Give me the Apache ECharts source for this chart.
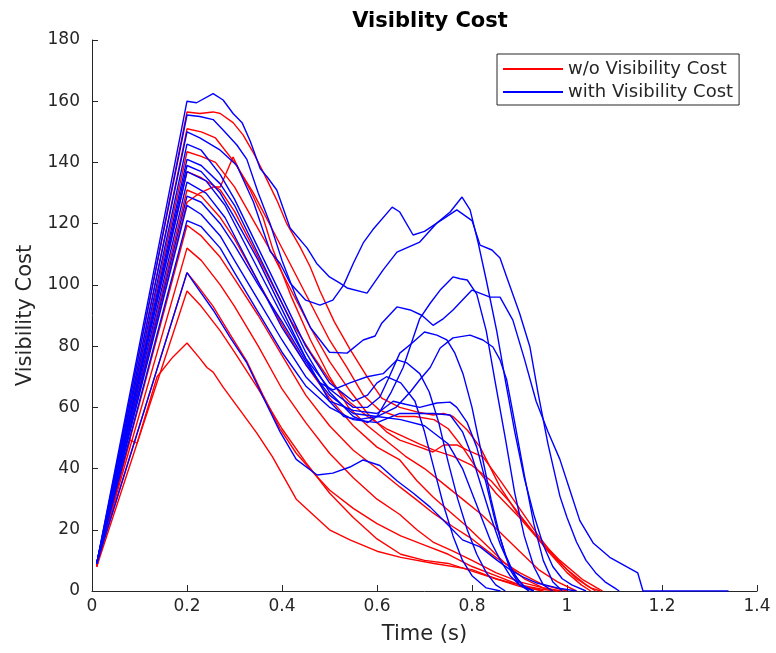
<!DOCTYPE html>
<html>
<head>
<meta charset="utf-8">
<script src="https://cdn.jsdelivr.net/npm/echarts@6/dist/echarts.min.js"></script>
<style>
  html, body { margin: 0; padding: 0; background: #fff; }
  #chart { width: 776px; height: 653px; }
</style>
</head>
<body>
<div id="chart"></div>
<script>
  // axis ticks
  var xTicks = [0, 0.2, 0.4, 0.6, 0.8, 1, 1.2, 1.4]
  var yTicks = [0, 20, 40, 60, 80, 100, 120, 140, 160, 180]

  // w/o visibility cost runs: [time, cost]
  var red157 = [[0.01,8],[0.2,156.5],[0.227,156],[0.255,156.5],[0.27,156],[0.297,153],[0.318,149],[0.339,143.4],[0.36,137],[0.389,127.7],[0.41,120],[0.438,112.4],[0.459,106],[0.48,98],[0.51,88],[0.543,79],[0.579,70],[0.61,63],[0.648,60],[0.684,58.5],[0.718,57.5],[0.74,58],[0.76,57],[0.79,52.6],[0.817,47],[0.859,34],[0.895,25.5],[0.943,16.7],[0.985,10],[1.034,3.6],[1.063,1],[1.075,0]]
  var red151 = [[0.01,8],[0.2,151],[0.23,150],[0.26,148],[0.3,140],[0.34,130],[0.38,118],[0.42,106],[0.46,94],[0.5,82],[0.537,73],[0.571,64],[0.606,59],[0.642,57],[0.68,57],[0.72,56],[0.75,53],[0.78,47],[0.81,40],[0.85,32],[0.9,24],[0.95,15],[1.0,7],[1.04,2],[1.06,0]]
  var red143 = [[0.01,9],[0.2,143.5],[0.23,142],[0.26,140],[0.3,132],[0.34,121],[0.38,110],[0.42,98],[0.46,86],[0.5,75],[0.54,66],[0.58,58],[0.62,52],[0.648,49.3],[0.69,47],[0.718,45.4],[0.74,47.7],[0.768,47.7],[0.79,46],[0.823,43.8],[0.86,36],[0.9,27],[0.94,18],[0.98,10],[1.02,4],[1.05,1],[1.07,0]]
  var red137 = [[0.01,9],[0.2,137],[0.23,135],[0.27,131],[0.3,124],[0.34,112],[0.38,100],[0.42,88],[0.46,78],[0.5,69],[0.54,62],[0.58,57],[0.62,53],[0.648,51],[0.69,48],[0.72,46],[0.76,44],[0.8,41],[0.84,36],[0.88,29],[0.92,21],[0.96,13],[1.0,6],[1.03,2],[1.05,0]]
  var red131 = [[0.01,9],[0.2,131],[0.23,129],[0.27,122],[0.3,115],[0.35,101],[0.4,87],[0.45,74],[0.5,63],[0.55,54],[0.6,47],[0.648,42.8],[0.684,36],[0.718,30.7],[0.754,25.8],[0.79,21],[0.83,15],[0.87,9],[0.91,4],[0.95,1],[0.98,0]]
  var red127 = [[0.01,9],[0.2,127],[0.227,130],[0.255,132],[0.27,132],[0.297,141.8],[0.31,137.5],[0.333,131],[0.36,122],[0.38,112],[0.42,96],[0.46,82],[0.5,70],[0.54,60],[0.58,54],[0.62,49],[0.66,44],[0.7,40],[0.74,35],[0.78,30],[0.82,25],[0.86,19],[0.9,13],[0.94,7],[0.98,3],[1.02,0]]
  var red119 = [[0.01,9],[0.2,119.5],[0.23,116],[0.27,109],[0.3,102],[0.35,90],[0.4,77],[0.45,64],[0.5,54],[0.55,46],[0.6,40],[0.648,34],[0.684,29.7],[0.718,25.5],[0.76,21],[0.8,17],[0.85,11],[0.9,6],[0.95,2],[1.0,0]]
  var red112 = [[0.01,9],[0.2,112],[0.23,108],[0.27,100],[0.3,93],[0.35,80],[0.4,66],[0.45,55],[0.5,45],[0.55,37],[0.6,30],[0.648,25],[0.684,20],[0.718,16],[0.76,13],[0.8,10],[0.85,6],[0.9,3],[0.95,1],[0.99,0]]
  var red104 = [[0.01,9],[0.2,104],[0.221,100],[0.255,93],[0.29,84],[0.326,75],[0.36,64],[0.396,53],[0.43,45],[0.47,38],[0.5,33],[0.55,27],[0.6,22],[0.65,18],[0.7,15],[0.75,12],[0.8,8],[0.85,5],[0.9,2],[0.95,0.5],[0.98,0]]
  var red98 = [[0.01,8],[0.2,98],[0.23,93],[0.27,85],[0.3,78],[0.35,66],[0.4,53],[0.45,42],[0.5,32],[0.55,24],[0.6,17],[0.65,12],[0.7,10],[0.75,9],[0.8,6.5],[0.85,4],[0.9,1.5],[0.95,0]]
  var red81 = [[0.01,8],[0.08,49.3],[0.095,48.3],[0.137,70],[0.17,76.4],[0.2,81],[0.227,76],[0.242,73],[0.255,71.5],[0.276,66.6],[0.312,59],[0.347,51.6],[0.38,43.8],[0.43,30],[0.5,20],[0.543,16.7],[0.6,13],[0.65,11],[0.72,9],[0.8,7],[0.85,4],[0.9,2],[0.95,0]]

  // with visibility cost runs: [time, cost]
  var blue160 = [[0.01,9],[0.2,160],[0.22,159.5],[0.255,162.5],[0.276,160.4],[0.297,156],[0.316,153],[0.333,147],[0.354,138],[0.37,135],[0.389,131],[0.417,118.6],[0.453,112],[0.473,107],[0.5,102.6],[0.522,100.6],[0.537,99],[0.579,97.3],[0.613,104.9],[0.642,110.7],[0.69,114],[0.726,120.2],[0.768,124.5],[0.8,121],[0.817,113],[0.842,111.4],[0.859,108.8],[0.873,102.6],[0.9,90.8],[0.922,79.7],[0.939,64.7],[0.96,48],[0.985,31],[1.0,24],[1.02,16],[1.04,10],[1.06,6],[1.08,3],[1.1,1],[1.11,0]]
  var blue150 = [[0.01,9],[0.2,150],[0.227,148],[0.27,144],[0.305,139],[0.34,127],[0.375,111],[0.396,107],[0.417,100.6],[0.45,95],[0.48,93.4],[0.507,95],[0.53,100],[0.55,107],[0.571,113.7],[0.591,118],[0.632,125.4],[0.648,123.8],[0.676,116.3],[0.7,117.5],[0.726,120.2],[0.754,123.8],[0.779,128.7],[0.796,124.5],[0.813,113.7],[0.83,101.6],[0.852,85],[0.87,69],[0.89,52],[0.91,37],[0.93,25],[0.95,15],[0.97,8],[0.99,4],[1.01,2],[1.04,0]]
  var blue155 = [[0.01,9],[0.2,155.5],[0.227,155],[0.255,154],[0.276,150.6],[0.305,145.7],[0.326,141],[0.35,130],[0.375,120],[0.4,108],[0.43,96],[0.46,86],[0.5,78],[0.537,77.7],[0.571,82],[0.596,83.3],[0.61,87.5],[0.642,92.8],[0.67,91.8],[0.695,90],[0.718,86.8],[0.74,89],[0.76,91.8],[0.8,98.3],[0.838,96],[0.859,96],[0.886,88.5],[0.91,76],[0.935,62],[0.96,52],[0.985,43],[1.006,33],[1.027,23],[1.055,15.7],[1.09,11],[1.149,5.9],[1.16,0],[1.34,0]]
  var blue141 = [[0.01,9],[0.2,141],[0.23,139],[0.27,133],[0.3,126],[0.35,110],[0.4,94],[0.45,78],[0.5,65],[0.55,57],[0.58,55],[0.6,57],[0.63,65],[0.655,73],[0.69,89],[0.712,94],[0.733,98.3],[0.76,102.6],[0.775,102],[0.79,101.6],[0.81,97],[0.83,85],[0.848,69],[0.87,50],[0.89,32],[0.91,18],[0.93,8],[0.95,2],[0.97,0]]
  var blue137 = [[0.01,9],[0.2,137],[0.24,134],[0.28,126],[0.32,114],[0.36,102],[0.4,90],[0.45,76],[0.5,66],[0.55,60],[0.58,60],[0.606,63.4],[0.623,69],[0.648,77.7],[0.674,81],[0.7,84.6],[0.726,83.6],[0.747,82],[0.764,77.7],[0.781,71],[0.8,60],[0.82,45],[0.84,30],[0.86,17],[0.88,7],[0.9,2],[0.92,0]]
  var blue133 = [[0.01,9],[0.2,133.6],[0.24,130],[0.28,122],[0.32,110],[0.36,98],[0.4,86],[0.45,74],[0.5,64],[0.55,58],[0.6,57],[0.64,60],[0.67,65],[0.69,69],[0.712,73],[0.733,79.4],[0.76,82.7],[0.796,83.6],[0.823,82],[0.844,79.7],[0.859,75.5],[0.873,69],[0.89,55],[0.91,38],[0.93,22],[0.95,10],[0.97,3],[0.99,0]]
  var blue129 = [[0.01,9],[0.2,129],[0.23,127],[0.27,120],[0.3,113],[0.35,100],[0.4,88],[0.45,75],[0.48,68],[0.507,65.7],[0.543,68],[0.579,70],[0.613,71],[0.642,75.5],[0.663,74.5],[0.69,71],[0.71,65],[0.73,55],[0.75,42],[0.77,30],[0.79,20],[0.81,12],[0.83,6],[0.85,2],[0.87,0]]
  var blue146 = [[0.01,9],[0.2,146],[0.23,144],[0.27,136],[0.3,128],[0.35,112],[0.4,96],[0.45,80],[0.5,68],[0.55,62],[0.58,64],[0.6,68],[0.62,70],[0.65,68],[0.68,62],[0.7,52],[0.72,40],[0.74,28],[0.76,18],[0.78,10],[0.8,5],[0.83,1],[0.86,0]]
  var blue139 = [[0.01,9],[0.2,139],[0.23,137],[0.27,130],[0.3,122],[0.35,108],[0.4,92],[0.45,76],[0.5,62],[0.53,57],[0.56,56],[0.6,57],[0.65,56],[0.7,54],[0.75,48],[0.78,40],[0.8,32],[0.82,24],[0.84,16],[0.86,10],[0.88,5],[0.9,2],[0.93,0]]
  var blue126 = [[0.01,9],[0.2,126],[0.23,123],[0.27,116],[0.3,108],[0.35,95],[0.4,82],[0.45,70],[0.5,62],[0.55,59],[0.6,58],[0.634,62],[0.66,61],[0.69,60],[0.726,61.4],[0.754,61.7],[0.768,60],[0.79,55],[0.81,47],[0.83,35],[0.85,22],[0.87,12],[0.89,5],[0.91,1.5],[0.93,0]]
  var blue122 = [[0.01,9],[0.2,121],[0.23,119],[0.27,112],[0.3,104],[0.35,91],[0.4,78],[0.45,67],[0.5,60],[0.55,56],[0.6,55],[0.648,58],[0.69,58],[0.718,58],[0.754,57.5],[0.78,52],[0.8,44],[0.82,34],[0.84,24],[0.86,15],[0.88,8],[0.9,3],[0.92,0]]
  var blue104 = [[0.01,9],[0.2,104],[0.221,99.3],[0.255,91.8],[0.29,83],[0.326,74.5],[0.36,63.4],[0.396,52],[0.43,43],[0.474,37.9],[0.507,38.5],[0.543,40.5],[0.571,42.8],[0.606,41],[0.642,36],[0.676,32],[0.712,27.4],[0.747,22],[0.78,16.7],[0.817,14.4],[0.853,10],[0.88,7],[0.907,4.6],[0.937,2.6],[0.979,1],[1.02,0]]

  var redRuns = [red157, red151, red143, red137, red131, red127, red119, red112, red104, red98, red81]
  var blueRuns = [blue160, blue155, blue150, blue146, blue141, blue139, blue137, blue133, blue129, blue126, blue122, blue104]

  var redName = 'w/o Visibility Cost'
  var blueName = 'with Visibility Cost'
  var font = 'DejaVu Sans'

  function makeSeries (runs, name, color) {
    return runs.map(function (run) {
      return {
        name: name,
        type: 'line',
        data: run,
        symbol: 'none',
        showSymbol: false,
        silent: true,
        lineStyle: { color: color, width: 1.4 },
        itemStyle: { color: color }
      }
    })
  }

  var series = makeSeries(redRuns, redName, '#ff0000').concat(makeSeries(blueRuns, blueName, '#0000ff'))

  var axisColor = '#262626'
  var chart = echarts.init(document.getElementById('chart'))
  chart.setOption({
    animation: false,
    backgroundColor: '#fff',
    title: {
      text: 'Visiblity Cost',
      left: 425,
      textAlign: 'center',
      top: 6,
      textStyle: { fontFamily: font, fontSize: 21, fontWeight: 'bold', color: '#000' }
    },
    legend: {
      data: [redName, blueName],
      orient: 'vertical',
      left: 497,
      top: 54,
      padding: [6, 6, 4, 6],
      itemGap: 5,
      itemWidth: 60,
      itemHeight: 2,
      icon: 'rect',
      borderColor: axisColor,
      borderWidth: 1,
      backgroundColor: '#fff',
      textStyle: { fontFamily: font, fontSize: 18, color: axisColor }
    },
    grid: { left: 92, right: 19, top: 40, bottom: 62 },
    xAxis: {
      type: 'value',
      min: xTicks[0],
      max: xTicks[xTicks.length - 1],
      interval: 0.2,
      name: 'Time (s)',
      nameLocation: 'middle',
      nameGap: 33,
      nameTextStyle: { fontFamily: font, fontSize: 21, color: axisColor },
      axisLine: { onZero: false, lineStyle: { color: axisColor, width: 1 } },
      axisTick: { inside: true, length: 6, lineStyle: { color: axisColor } },
      axisLabel: {
        fontFamily: font, fontSize: 17, color: axisColor, margin: 7,
        formatter: function (v) { return String(Math.round(v * 10) / 10) }
      },
      splitLine: { show: false }
    },
    yAxis: {
      type: 'value',
      min: yTicks[0],
      max: yTicks[yTicks.length - 1],
      interval: 20,
      name: 'Visibility Cost',
      nameLocation: 'middle',
      nameGap: 56,
      nameTextStyle: { fontFamily: font, fontSize: 21, color: axisColor },
      axisLine: { show: true, lineStyle: { color: axisColor, width: 1 } },
      axisTick: { show: true, inside: true, length: 6, lineStyle: { color: axisColor } },
      axisLabel: { fontFamily: font, fontSize: 17, color: axisColor, margin: 12 },
      splitLine: { show: false }
    },
    series: series
  })
</script>
</body>
</html>
